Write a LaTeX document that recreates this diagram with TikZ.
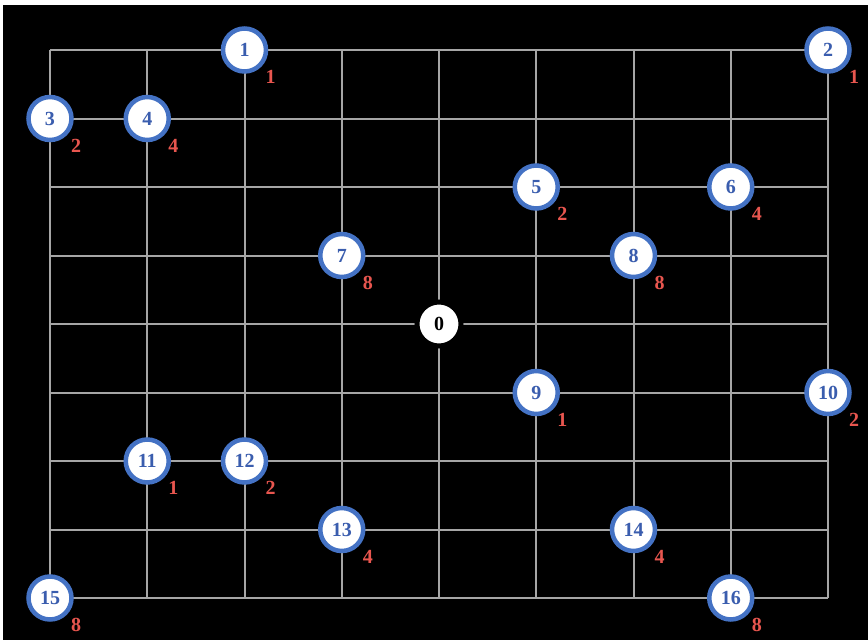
\documentclass[tikz,border=0pt]{standalone}
\usepackage{fontspec}
\setmainfont{Liberation Serif}
\definecolor{nodeblue}{HTML}{4472C4}
\definecolor{numblue}{HTML}{3A5DAE}
\definecolor{wred}{HTML}{E8564F}
\definecolor{gridgray}{HTML}{A6A6A6}
\tikzset{
  gridline/.style={draw=gridgray, line width=2pt},
  vtx/.style={circle, draw=nodeblue, line width=4.5pt, fill=white, minimum size=43pt, inner sep=0pt,
    text=numblue, font=\fontsize{20}{21}\selectfont\bfseries},
  root/.style={circle, draw=black, line width=5pt, fill=white, minimum size=44pt, inner sep=0pt,
    text=black, font=\fontsize{20}{21}\selectfont\bfseries},
  wlab/.style={text=wred, font=\fontsize{20}{21}\selectfont\bfseries, inner sep=0pt}
}
\begin{document}
\begin{tikzpicture}[x=1pt,y=-1pt]
\useasboundingbox (0,0) rectangle (868,640);
\fill[white] (0,0) rectangle (868,640);
\fill[black] (3,5) rectangle (868,640);
% grid
\foreach \x in {50,147.25,244.5,341.75,439,536.25,633.5,730.75,828}
  \draw[gridline] (\x,50) -- (\x,598);
\foreach \y in {50,118.5,187,255.5,324,392.5,461,529.5,598}
  \draw[gridline] (50,\y) -- (828,\y);
% nodes
\node[root] (n0) at (439,324) {0};
\foreach \n/\x/\y/\w in {1/244.5/50/1, 2/828/50/1, 3/50/118.5/2, 4/147.25/118.5/4,
  5/536.25/187/2, 6/730.75/187/4, 7/341.75/255.5/8, 8/633.5/255.5/8,
  9/536.25/392.5/1, 10/828/392.5/2, 11/147.25/461/1, 12/244.5/461/2,
  13/341.75/529.5/4, 14/633.5/529.5/4, 15/50/598/8, 16/730.75/598/8}{
  \node[vtx] (n\n) at (\x,\y) {\n};
  \node[wlab] (w\n) at ([xshift=26pt,yshift=-27pt]n\n.center) {\w};
}
\end{tikzpicture}
\end{document}
